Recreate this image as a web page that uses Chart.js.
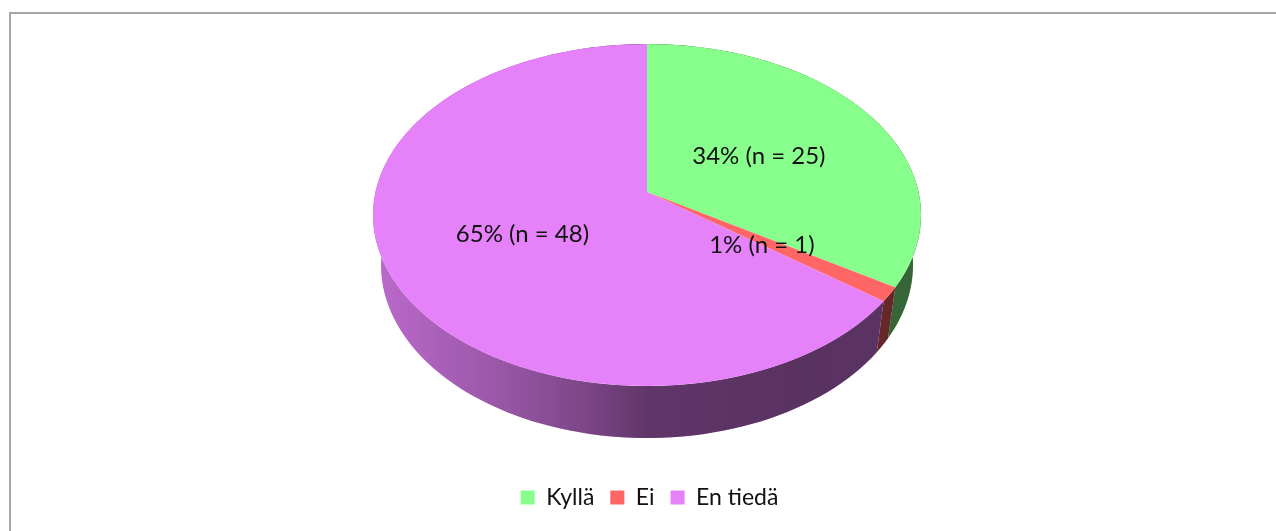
<!DOCTYPE html>
<html>
<head>
<meta charset="utf-8">
<title>Kyllä / Ei / En tiedä</title>
<script src="https://cdn.jsdelivr.net/npm/chart.js@4/dist/chart.umd.min.js"></script>
<style>
  html, body { margin: 0; padding: 0; background: #fff; overflow: hidden; }
  #frame { position: absolute; left: 9px; top: 12px; width: 1400px; height: 700px;
           border-top: 2px solid #a6a6a6; border-left: 2px solid #a6a6a6; }
  #pie { position: absolute; left: 0; top: 0; }
</style>
</head>
<body>
<div id="frame"></div>
<canvas id="pie" width="1276" height="531"></canvas>
<script>
// ===== Data =====
const categories = ["Kyllä", "Ei", "En tiedä"];
const counts = [25, 1, 48];
const percents = ["34%", "1%", "65%"];
const colors = ["#88ff8c", "#ff6666", "#e581f9"];

// ===== 3D look (top face and bottom rim, in page pixels) =====
const apex = { x: 647, y: 192 };
const tilt = 0.624;
const topFace = { x: 647, y: 215, rx: 274, ry: 171 };
const bottomFace = { x: 647, y: 265, rx: 266, ry: 173 };
const labelDist = 135;
const labelNudge = [[-6, 5], [3, 6], [-4, 4]];

// where a ray from the apex hits the top outline, as an angle on that ellipse
function rimAngle(a) {
  const e = topFace;
  const dx = Math.cos(a), dy = Math.sin(a) * tilt;
  const ox = apex.x - e.x, oy = apex.y - e.y;
  const A = dx * dx / (e.rx * e.rx) + dy * dy / (e.ry * e.ry);
  const B = 2 * (ox * dx / (e.rx * e.rx) + oy * dy / (e.ry * e.ry));
  const C = ox * ox / (e.rx * e.rx) + oy * oy / (e.ry * e.ry) - 1;
  const t = (-B + Math.sqrt(B * B - 4 * A * C)) / (2 * A);
  return Math.atan2((oy + dy * t) / e.ry, (ox + dx * t) / e.rx);
}

function wallPath(ctx, start, end) {
  const steps = 120;
  const rim = [];
  for (let i = 0; i <= steps; i++) rim.push(rimAngle(start + (end - start) * i / steps));
  ctx.beginPath();
  rim.forEach(p => ctx.lineTo(topFace.x + topFace.rx * Math.cos(p), topFace.y + topFace.ry * Math.sin(p)));
  rim.reverse().forEach(p => ctx.lineTo(bottomFace.x + bottomFace.rx * Math.cos(p), bottomFace.y + bottomFace.ry * Math.sin(p)));
  ctx.closePath();
}

const pie3d = {
  id: "pie3d",
  beforeDatasetsDraw(chart) {
    const ctx = chart.ctx;
    const arcs = chart.getDatasetMeta(0).data;

    // side wall, darker to the right
    const shade = ctx.createLinearGradient(topFace.x - topFace.rx, 0, topFace.x + topFace.rx, 0);
    shade.addColorStop(0, "rgba(0,0,0,0.18)");
    shade.addColorStop(0.23, "rgba(0,0,0,0.33)");
    shade.addColorStop(0.4, "rgba(0,0,0,0.47)");
    shade.addColorStop(0.5, "rgba(0,0,0,0.58)");
    shade.addColorStop(0.78, "rgba(0,0,0,0.61)");
    shade.addColorStop(1, "rgba(0,0,0,0.6)");
    arcs.forEach((arc, i) => {
      wallPath(ctx, arc.startAngle, arc.endAngle);
      ctx.fillStyle = colors[i];
      ctx.fill();
      ctx.fillStyle = shade;
      ctx.fill();
    });

    // top face: flattened pie, cut to the tilted outline
    ctx.save();
    ctx.beginPath();
    ctx.ellipse(topFace.x, topFace.y, topFace.rx, topFace.ry, 0, 0, Math.PI * 2);
    ctx.clip();
    ctx.translate(apex.x, apex.y);
    ctx.scale(1, tilt);
    ctx.translate(-arcs[0].x, -arcs[0].y);
  },
  afterDatasetsDraw(chart) {
    const ctx = chart.ctx;
    ctx.restore();

    ctx.font = "24px Lato";
    ctx.fillStyle = "#111";
    ctx.textAlign = "center";
    ctx.textBaseline = "middle";
    chart.getDatasetMeta(0).data.forEach((arc, i) => {
      const mid = (arc.startAngle + arc.endAngle) / 2;
      const x = apex.x + Math.cos(mid) * labelDist + labelNudge[i][0];
      const y = apex.y + Math.sin(mid) * tilt * labelDist + labelNudge[i][1];
      ctx.fillText(percents[i] + " (n = " + counts[i] + ")", x, y);
    });
  }
};

new Chart(document.getElementById("pie"), {
  type: "pie",
  data: {
    labels: categories,
    datasets: [{
      data: counts,
      backgroundColor: colors,
      borderWidth: 0,
      radius: 340,
      clip: false
    }]
  },
  options: {
    responsive: false,
    animation: false,
    layout: { padding: { left: 23, bottom: 12 } },
    plugins: {
      tooltip: { enabled: false },
      legend: {
        position: "bottom",
        labels: {
          boxWidth: 14,
          boxHeight: 14,
          padding: 16,
          color: "#111",
          font: { family: "Lato", size: 23 }
        }
      }
    }
  },
  plugins: [pie3d]
});
</script>
</body>
</html>
